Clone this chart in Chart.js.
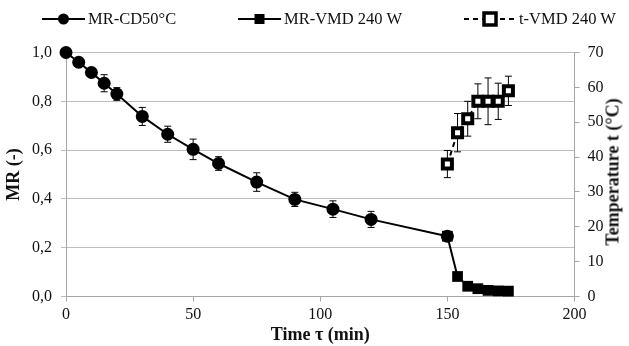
<!DOCTYPE html>
<html>
<head>
<meta charset="utf-8">
<script src="https://cdn.jsdelivr.net/npm/chart.js@4/dist/chart.umd.min.js"></script>
<style>
  body { margin: 0; background: #fff; }
  #wrap { position: relative; width: 629px; height: 346px; font-family: "Liberation Serif", "DejaVu Serif", serif; }
  .leg { position: absolute; top: 9px; height: 20px; display: flex; align-items: center; font-size: 16.5px; color: #111; white-space: nowrap; }
  .leg svg { margin-right: 3px; }
  #rtitle { position: absolute; left: 613px; top: 172px; transform: translate(-50%, -50%) rotate(-90deg); font-size: 18px; font-weight: bold; color: #111; white-space: nowrap; }
</style>
</head>
<body>
<div id="wrap">
  <canvas id="chart" width="629" height="346"></canvas>
  <div class="leg" style="left:42px">
    <svg width="43" height="14"><line x1="0" y1="7" x2="43" y2="7" stroke="#000" stroke-width="2"/><circle cx="21.5" cy="7" r="5.5" fill="#000"/></svg>
    <span>MR-CD50°C</span>
  </div>
  <div class="leg" style="left:238px">
    <svg width="43" height="14"><line x1="0" y1="7" x2="43" y2="7" stroke="#000" stroke-width="2"/><rect x="16.5" y="2" width="10" height="10" fill="#000"/></svg>
    <span>MR-VMD 240 W</span>
  </div>
  <div class="leg" style="left:464px">
    <svg width="52" height="16"><line x1="0" y1="8" x2="52" y2="8" stroke="#000" stroke-width="2" stroke-dasharray="5,4"/><rect x="20" y="2" width="12" height="12" fill="#fff" stroke="#000" stroke-width="3.5"/></svg>
    <span>t-VMD 240 W</span>
  </div>
  <div id="rtitle">Temperature t (°C)</div>
</div>
<script>
// data
const timeCD = [0, 5, 10, 15, 20, 30, 40, 50, 60, 75, 90, 105, 120, 150];
const mrCD = [1.0, 0.96, 0.918, 0.874, 0.83, 0.738, 0.665, 0.603, 0.545, 0.469, 0.398, 0.358, 0.316, 0.247];
const mrCDErr = [0, 0.018, 0.01, 0.035, 0.026, 0.037, 0.033, 0.042, 0.028, 0.038, 0.029, 0.034, 0.033, 0.012];

const timeVMD = [150, 154, 158, 162, 166, 170, 174];
const mrVMD = [0.247, 0.082, 0.042, 0.032, 0.025, 0.023, 0.022];
const tempVMD = [38, 47, 51, 56, 56, 56, 59];
const tempErr = [3.9, 5.5, 5.0, 5.0, 6.7, 5.2, 4.2];

const xTicks = [0, 50, 100, 150, 200];

function pts(xs, ys) {
    return xs.map((x, i) => ({ x: x, y: ys[i] }));
}

// error bars drawn under the markers
const errorBars = {
    id: "errorBars",
    beforeDatasetsDraw(chart) {
        const ctx = chart.ctx;
        const xs = chart.scales.x;
        chart.data.datasets.forEach(ds => {
            if (!ds.errors) return;
            const ys = chart.scales[ds.yAxisID];
            ctx.save();
            ctx.strokeStyle = "#000";
            ctx.lineWidth = 1;
            ds.data.forEach((p, j) => {
                const e = ds.errors[j];
                if (!e) return;
                const px = xs.getPixelForValue(p.x);
                const top = ys.getPixelForValue(p.y + e);
                const bot = ys.getPixelForValue(p.y - e);
                ctx.beginPath();
                ctx.moveTo(px, top); ctx.lineTo(px, bot);
                ctx.moveTo(px - 3.5, top); ctx.lineTo(px + 3.5, top);
                ctx.moveTo(px - 3.5, bot); ctx.lineTo(px + 3.5, bot);
                ctx.stroke();
            });
            ctx.restore();
        });
    }
};

Chart.defaults.font.family = "\"Liberation Serif\", \"DejaVu Serif\", serif";
Chart.defaults.font.size = 16;
Chart.defaults.color = "#111";

const gridGray = "#bdbdbd";
const axisGray = "#a6a6a6";

new Chart(document.getElementById("chart"), {
    type: "line",
    data: {
        datasets: [
            {
                label: "MR-CD50°C",
                data: pts(timeCD, mrCD),
                errors: mrCDErr,
                yAxisID: "y",
                clip: false,
                borderColor: "#000",
                borderWidth: 2,
                pointStyle: "circle",
                pointRadius: 6.5,
                pointBackgroundColor: "#000",
                pointBorderColor: "#000",
                pointBorderWidth: 0,
                tension: 0
            },
            {
                label: "MR-VMD 240 W",
                data: pts(timeVMD, mrVMD),
                yAxisID: "y",
                clip: false,
                borderColor: "#000",
                borderWidth: 2,
                pointStyle: "rect",
                pointRadius: 7.6,
                pointBackgroundColor: "#000",
                pointBorderColor: "#000",
                pointBorderWidth: 0,
                tension: 0
            },
            {
                label: "t-VMD 240 W",
                data: pts(timeVMD, tempVMD),
                errors: tempErr,
                yAxisID: "y1",
                clip: false,
                borderColor: "#000",
                borderWidth: 2,
                borderDash: [5, 4],
                pointStyle: "rect",
                pointRadius: 6.4,
                pointBackgroundColor: "#fff",
                pointBorderColor: "#000",
                pointBorderWidth: 4,
                tension: 0
            }
        ]
    },
    options: {
        responsive: false,
        animation: false,
        layout: { autoPadding: false, padding: { top: 52.5, left: 0, right: 0, bottom: 0 } },
        plugins: {
            legend: { display: false },
            tooltip: { enabled: false }
        },
        scales: {
            x: {
                type: "linear",
                min: 0,
                max: 200,
                afterFit: s => { s.height = 49.5; },
                afterBuildTicks: s => { s.ticks = xTicks.map(v => ({ value: v })); },
                grid: { drawOnChartArea: false, color: axisGray, tickLength: 5 },
                border: { color: axisGray },
                ticks: { padding: 4, font: { size: 16 } },
                title: {
                    display: true,
                    text: "Time τ (min)",
                    font: { size: 18, weight: "bold" },
                    padding: { top: 2, bottom: 0 }
                }
            },
            y: {
                position: "left",
                min: 0,
                max: 1,
                afterFit: s => { s.width = 66; },
                grid: { color: gridGray, tickLength: 5 },
                border: { color: axisGray },
                ticks: {
                    stepSize: 0.2,
                    padding: 9,
                    font: { size: 16 },
                    callback: v => v.toFixed(1).replace(".", ",")
                },
                title: {
                    display: true,
                    text: "MR (-)",
                    font: { size: 18, weight: "bold" },
                    padding: { top: 4, bottom: 2 }
                }
            },
            y1: {
                position: "right",
                min: 0,
                max: 70,
                afterFit: s => { s.width = 54.5; },
                grid: { drawOnChartArea: false, color: axisGray, tickLength: 5 },
                border: { color: axisGray },
                ticks: { stepSize: 10, padding: 8, font: { size: 16 } }
            }
        }
    },
    plugins: [errorBars]
});
</script>
</body>
</html>
